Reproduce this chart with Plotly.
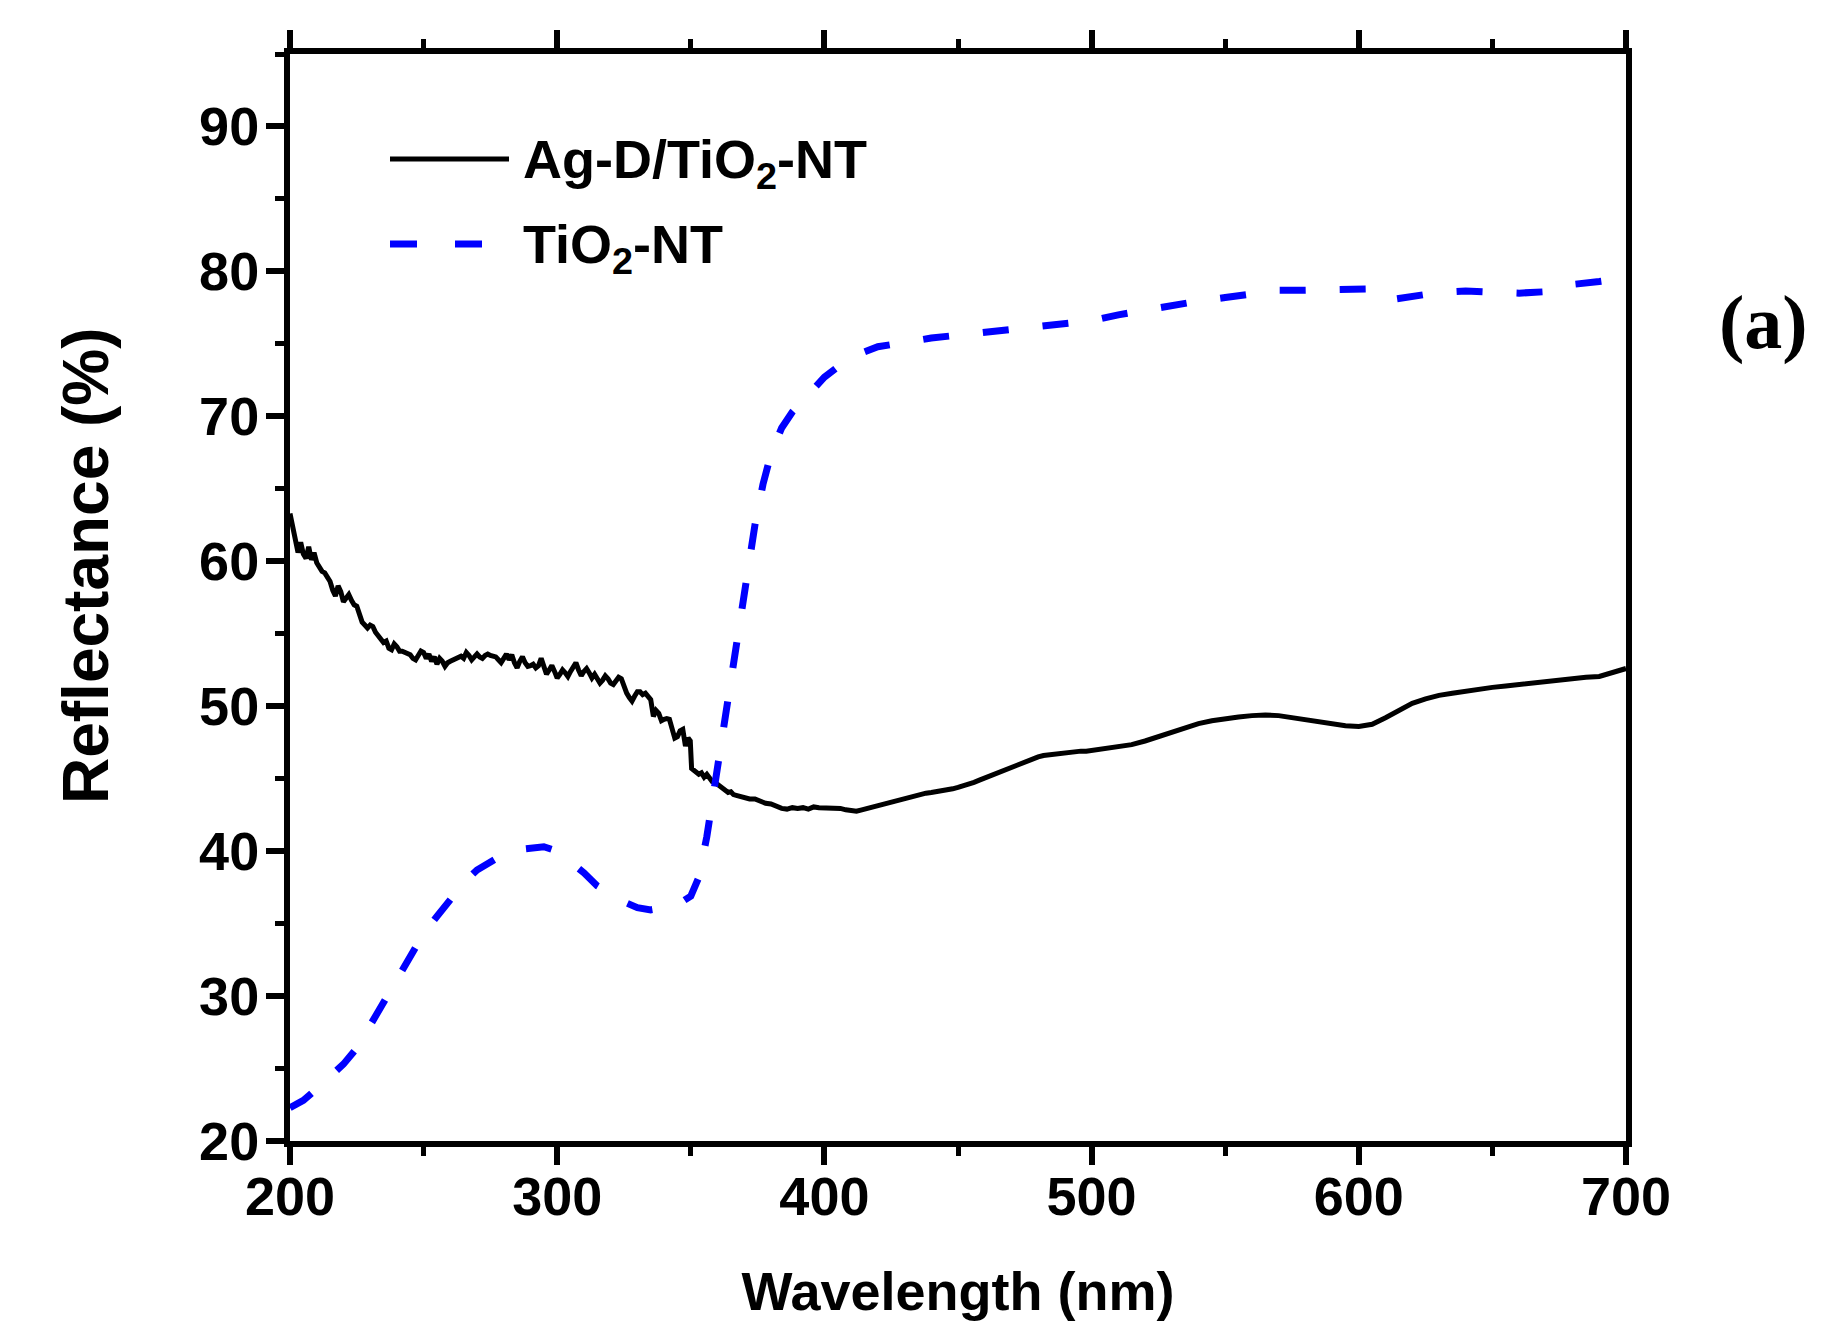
import plotly.graph_objects as go

# ---------------- data ----------------
agd_wavelength = [
    200, 201, 202, 203, 204, 205, 206, 207, 208, 209, 210, 211, 212, 213, 214, 215, 216, 217, 218, 219,
    220, 221, 222, 223, 224, 225, 226, 227, 228, 229, 230, 231, 232, 233, 234, 235, 236, 237, 238, 239,
    240, 241, 242, 243, 244, 245, 246, 247, 248, 249, 250, 251, 252, 253, 254, 255, 256, 257, 258, 259,
    260, 261, 262, 263, 264, 265, 266, 267, 268, 269, 270, 271, 272, 273, 274, 275, 276, 277, 278, 279,
    280, 281, 282, 283, 284, 285, 286, 287, 288, 289, 290, 291, 292, 293, 294, 295, 296, 297, 298, 299,
    300, 301, 302, 303, 304, 305, 306, 307, 308, 309, 310, 311, 312, 313, 314, 315, 316, 317, 318, 319,
    320, 321, 322, 323, 324, 325, 326, 327, 328, 329, 330, 331, 332, 333, 334, 335, 336, 337, 338, 339,
    340, 341, 342, 343, 344, 345, 346, 347, 348, 349, 349.8, 350.3, 351, 352, 353, 354, 355, 356, 357, 358,
    359, 360, 361, 362, 363, 364, 365, 366, 367, 368, 370, 372, 374, 376, 378, 380, 382, 384, 386, 388,
    390, 392, 394, 396, 398, 400, 402, 404, 406, 408, 410, 412, 414, 416, 418, 420, 422, 424, 426, 428,
    430, 432, 434, 436, 438, 440, 442, 444, 446, 448, 450, 452, 454, 456, 458, 460, 462, 464, 466, 468,
    470, 472, 474, 476, 478, 480, 482, 484, 486, 488, 490, 492, 494, 496, 498, 500, 505, 510, 515, 520,
    525, 530, 535, 540, 545, 550, 555, 560, 565, 570, 575, 580, 585, 590, 595, 600, 605, 610, 615, 620,
    625, 630, 635, 640, 645, 650, 655, 660, 665, 670, 675, 680, 685, 690, 695, 700,
]
agd_reflectance = [
    63.3, 62.4, 61.6, 60.6, 61.3, 60.5, 60.2, 61.0, 60.1, 60.6, 59.9, 59.5, 59.3, 59.2, 58.9, 58.6, 58.0, 57.6, 58.3, 57.9,
    57.2, 57.5, 57.7, 57.3, 57.0, 56.9, 56.3, 55.8, 55.6, 55.4, 55.6, 55.5, 55.1, 54.9, 54.7, 54.4, 54.5, 54.0, 53.9, 54.3,
    54.1, 53.8, 53.8, 53.7, 53.6, 53.55, 53.3, 53.2, 53.5, 53.8, 53.7, 53.3, 53.6, 53.1, 53.4, 52.9, 53.3, 53.1, 52.75, 53.0,
    53.1, 53.2, 53.3, 53.4, 53.45, 53.3, 53.7, 53.5, 53.2, 53.4, 53.6, 53.4, 53.3, 53.5, 53.6, 53.5, 53.45, 53.4, 53.2, 53.0,
    53.3, 53.6, 53.2, 53.55, 53.0, 52.65, 53.1, 53.4, 53.0, 52.75, 52.8, 52.9, 52.65, 52.8, 53.3, 52.7, 52.2, 52.5, 52.8, 52.4,
    51.95, 52.2, 52.5, 52.3, 52.05, 52.4, 52.8, 53.0, 52.5, 52.1, 52.4, 52.6, 52.3, 51.95, 52.2, 51.9, 51.6, 51.8, 52.1, 51.9,
    51.6, 51.5, 51.8, 52.0, 51.9, 51.3, 50.9, 50.6, 50.35, 50.7, 51.0, 51.0, 50.8, 50.9, 50.7, 50.45, 49.3, 49.7, 49.5, 49.0,
    49.1, 49.15, 49.1, 48.5, 47.8, 47.9, 48.3, 48.4, 47.25, 47.8, 47.6, 45.7, 45.6, 45.5, 45.3, 45.4, 45.1, 45.3, 45.0, 44.8,
    44.75, 44.6, 44.5, 44.3, 44.2, 44.05, 44.1, 43.9, 43.85, 43.8, 43.75, 43.6, 43.6, 43.45, 43.3, 43.25, 43.1, 42.95, 42.9, 43.0,
    42.95, 43.0, 42.9, 43.05, 43.0, 43.0, 42.95, 43.0, 42.95, 42.85, 42.8, 42.75, 42.85, 42.95, 43.0, 43.1, 43.2, 43.35, 43.45, 43.55,
    43.65, 43.75, 43.85, 43.95, 44.0, 44.05, 44.1, 44.15, 44.2, 44.3, 44.4, 44.5, 44.6, 44.75, 44.9, 45.05, 45.2, 45.35, 45.5, 45.65,
    45.8, 45.95, 46.1, 46.25, 46.4, 46.5, 46.6, 46.65, 46.7, 46.75, 46.8, 46.85, 46.85, 46.9, 46.9, 46.95, 47.05, 47.2, 47.35, 47.6,
    47.9, 48.2, 48.5, 48.8, 49.0, 49.15, 49.25, 49.35, 49.4, 49.35, 49.2, 49.05, 48.9, 48.75, 48.65, 48.6, 48.75, 49.2, 49.75, 50.2,
    50.5, 50.75, 50.9, 51.05, 51.15, 51.3, 51.4, 51.5, 51.6, 51.75, 51.85, 51.95, 52.0, 52.05, 52.3, 52.6,
]

tio2_wavelength = [
    200, 205, 210, 215, 220, 225, 230, 235, 240, 245, 250, 255, 260, 265, 270, 275, 280, 285, 290, 295,
    300, 305, 310, 315, 320, 325, 330, 335, 340, 345, 350, 353, 356, 359, 362, 365, 368, 371, 374, 377,
    380, 384, 388, 392, 396, 400, 405, 410, 415, 420, 425, 430, 440, 450, 460, 470, 480, 490, 500, 510,
    520, 530, 540, 550, 560, 570, 580, 590, 600, 607, 614, 620, 630, 640, 650, 660, 670, 680, 690, 700,
]
tio2_reflectance = [
    22.3, 22.8, 23.6, 24.4, 25.3, 26.4, 28.0, 29.6, 31.3, 32.9, 34.3, 35.5, 36.7, 37.8, 38.7, 39.3, 39.8, 40.1, 40.25, 40.3,
    40.0, 39.3, 38.5, 37.6, 37.0, 36.5, 36.1, 35.95, 36.1, 36.3, 36.9, 38.2, 41.0, 44.7, 48.3, 51.8, 55.3, 59.0, 62.5, 65.3,
    67.4, 69.2, 70.3, 71.1, 71.9, 72.7, 73.4, 73.9, 74.45, 74.8, 75.0, 75.1, 75.4, 75.6, 75.8, 76.0, 76.15, 76.3, 76.6, 77.0,
    77.35, 77.7, 77.95, 78.2, 78.5, 78.7, 78.7, 78.75, 78.85, 78.8, 78.1, 78.3, 78.55, 78.65, 78.6, 78.5, 78.6, 79.1, 79.3, 79.55,
]

series_names = ["Ag-D/TiO<sub>2</sub>-NT", "TiO<sub>2</sub>-NT"]
x_tick_values = [200, 300, 400, 500, 600, 700]
y_tick_values = [20, 30, 40, 50, 60, 70, 80, 90]
x_title = "Wavelength (nm)"
y_title = "Reflectance (%)"
panel_label = "(a)"

# ---------------- styling ----------------
W, H = 1834, 1321
ML, MR, MT, MB = 290, 208, 54, 180
SANS = "Liberation Sans, Arial, Helvetica, sans-serif"
SERIF = "Liberation Serif, Times New Roman, serif"
BLUE_DASH = "26px,34px"

fig = go.Figure()
fig.add_trace(go.Scatter(
    x=agd_wavelength, y=agd_reflectance, mode="lines", name=series_names[0],
    line=dict(color="black", width=5), showlegend=False,
))
fig.add_trace(go.Scatter(
    x=tio2_wavelength, y=tio2_reflectance, mode="lines", name=series_names[1],
    line=dict(color="#0000ff", width=7, dash=BLUE_DASH), showlegend=False,
))

tickfont = dict(family=SANS, size=54, color="black", weight="bold")
axis_common = dict(
    showgrid=False, zeroline=False, showline=True, linecolor="black", linewidth=6,
    ticks="outside", ticklen=18, tickwidth=6, tickcolor="black", automargin=False,
)

fig.update_layout(
    width=W, height=H,
    margin=dict(l=ML, r=MR, t=MT, b=MB, autoexpand=False),
    paper_bgcolor="white", plot_bgcolor="white",
    xaxis=dict(
        range=[200, 700], tickvals=x_tick_values, tickfont=tickfont, ticklabelstandoff=-15,
        minor=dict(dtick=50, tick0=200, ticklen=9, tickwidth=5, tickcolor="black", ticks="outside"),
        title=dict(text=x_title, font=dict(family=SANS, size=54, color="black", weight="bold"), standoff=51),
        **axis_common,
    ),
    xaxis2=dict(
        range=[200, 700], overlaying="x", side="top", tickvals=x_tick_values, showticklabels=False,
        minor=dict(dtick=50, tick0=200, ticklen=9, tickwidth=5, tickcolor="black", ticks="outside"),
        **axis_common,
    ),
    yaxis=dict(
        range=[20, 95], tickvals=y_tick_values, tickfont=tickfont, mirror=True, ticklabelstandoff=-4,
        minor=dict(dtick=5, tick0=20, ticklen=9, tickwidth=5, tickcolor="black", ticks="outside"),
        **axis_common,
    ),
)

# invisible trace so xaxis2 (top axis) is drawn
fig.add_trace(go.Scatter(x=[200, 700], y=[None, None], xaxis="x2", yaxis="y",
                         mode="lines", showlegend=False, hoverinfo="skip"))

# ---------------- helpers for pixel placement ----------------
pw = W - ML - MR
ph = H - MT - MB
def px(xp):
    return (xp - ML) / pw
def py(yp):
    return (H - MB - yp) / ph

# y-axis title (placed as in the reference, slightly above centre)
fig.add_annotation(xref="paper", yref="paper", x=px(86), y=py(566), xanchor="center", yanchor="middle",
                   text=y_title, textangle=-90, showarrow=False,
                   font=dict(family=SANS, size=64, color="black", weight="bold"))

# ---------------- manual legend ----------------
fig.add_shape(type="line", xref="paper", yref="paper",
              x0=px(390), x1=px(509), y0=py(159), y1=py(159),
              line=dict(color="black", width=5))
fig.add_shape(type="line", xref="paper", yref="paper",
              x0=px(390), x1=px(483), y0=py(244), y1=py(244),
              line=dict(color="#0000ff", width=7, dash="27px,38px"))
legfont = dict(family=SANS, size=54, color="black", weight="bold")
fig.add_annotation(xref="paper", yref="paper", x=px(521), y=py(163), xanchor="left", yanchor="middle",
                   text=series_names[0], showarrow=False, font=legfont)
fig.add_annotation(xref="paper", yref="paper", x=px(521), y=py(248), xanchor="left", yanchor="middle",
                   text=series_names[1], showarrow=False, font=legfont)

# panel label
fig.add_annotation(xref="paper", yref="paper", x=px(1763), y=py(322), xanchor="center", yanchor="middle",
                   text=panel_label, showarrow=False,
                   font=dict(family=SERIF, size=76, color="black", weight="bold"))

fig.write_html("out.html")
